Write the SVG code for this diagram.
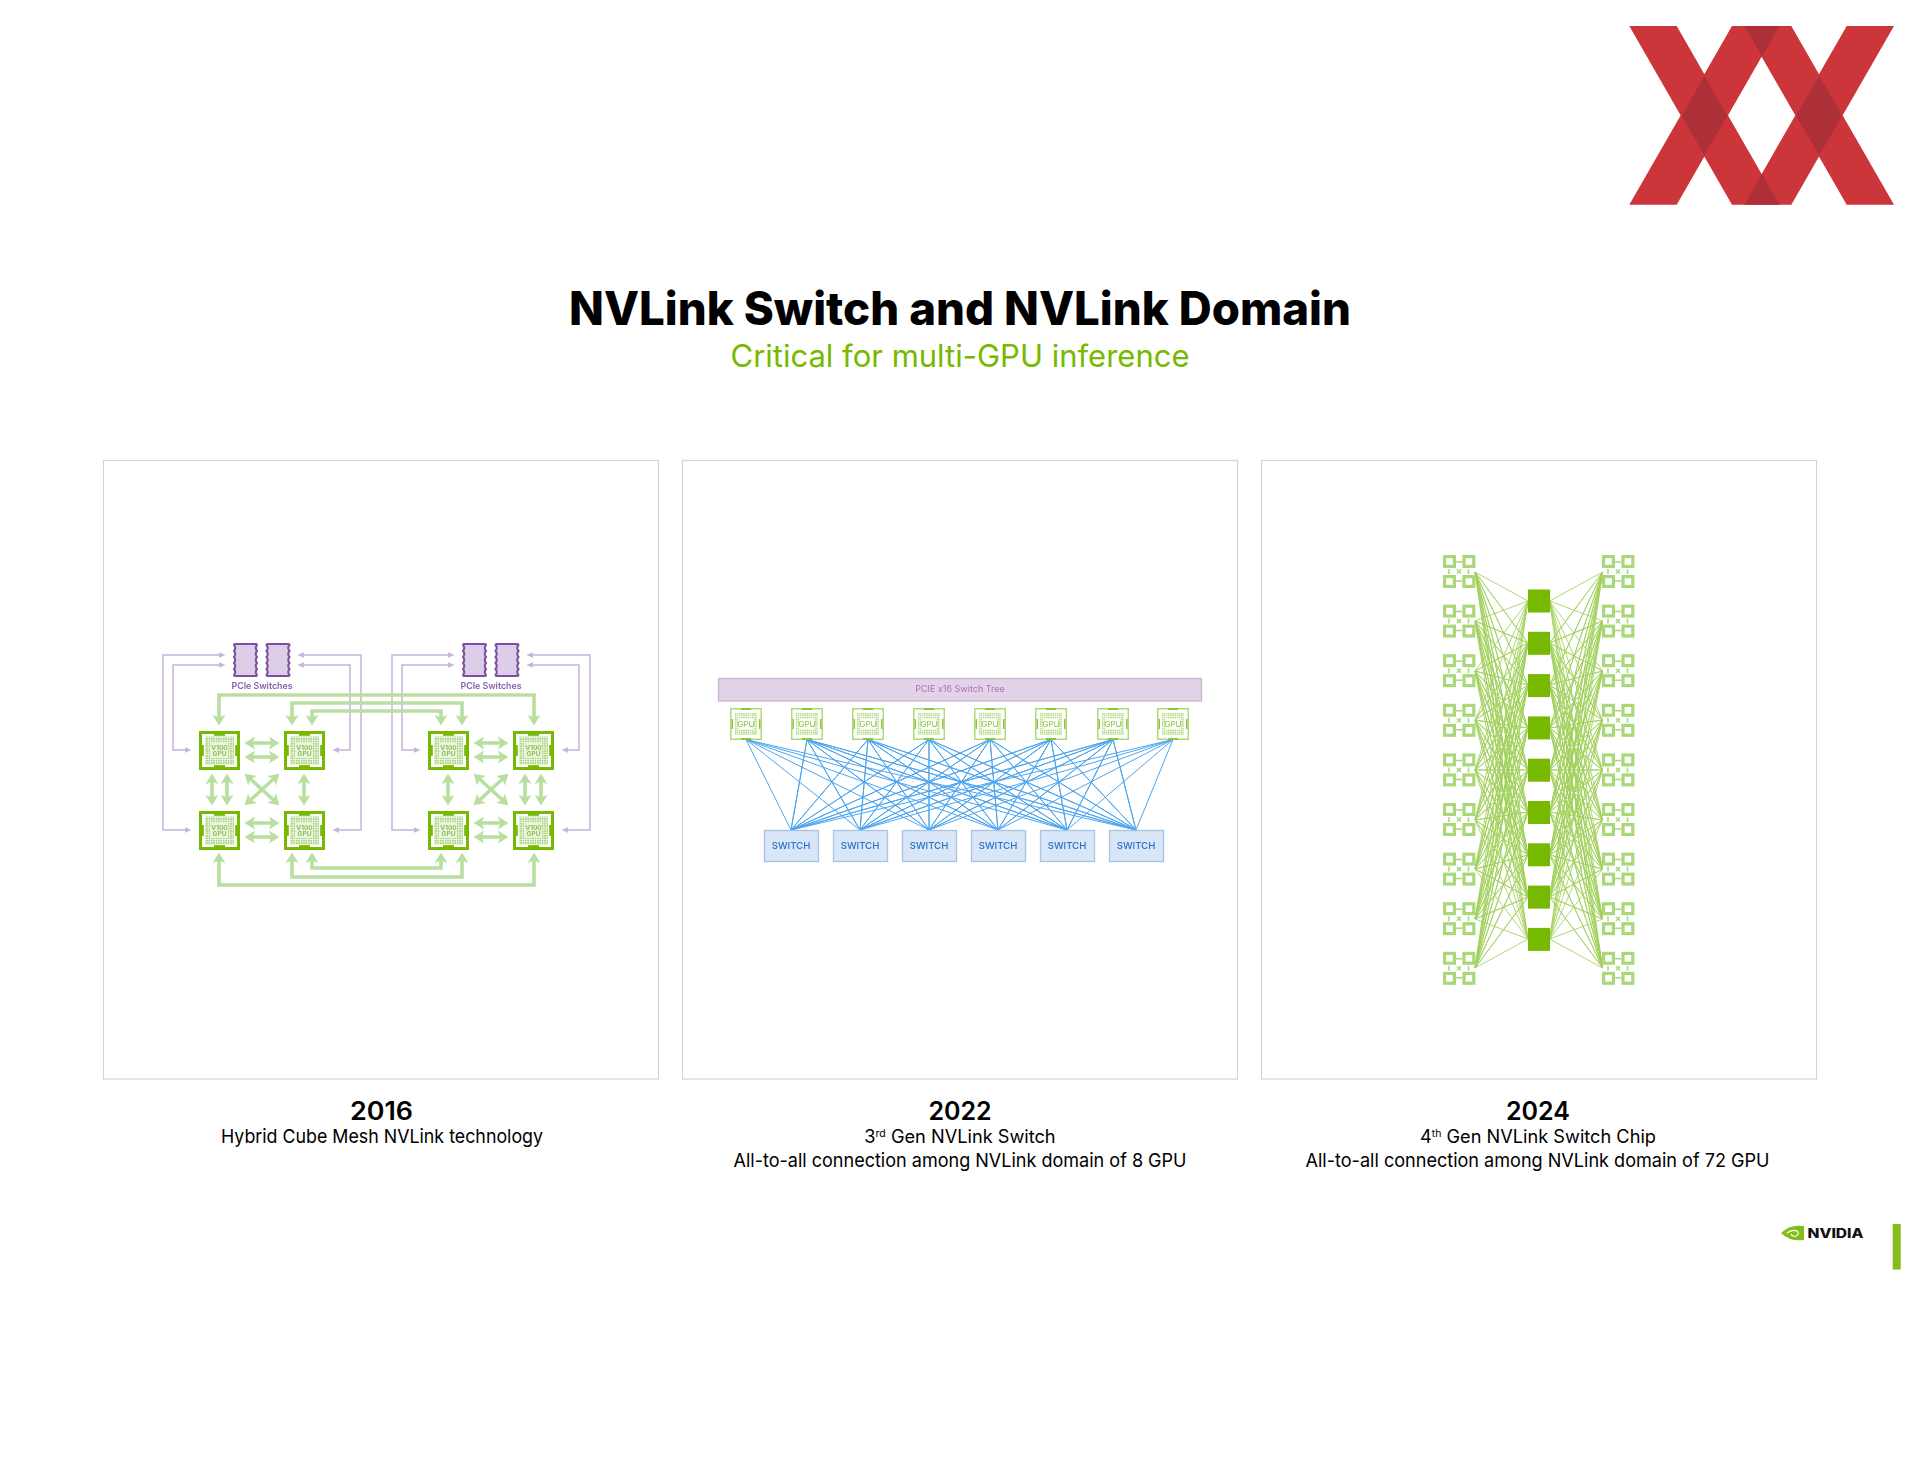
<svg xmlns="http://www.w3.org/2000/svg" width="1920" height="1483" viewBox="0 0 1920 1483">
<style>
text{font-family:Inter,"Liberation Sans",sans-serif;text-anchor:middle}
.title{font-size:46px;font-weight:800;fill:#000}
.sub{font-size:31px;fill:#76b900}
.year{font-size:25px;font-weight:600;fill:#000}
.cap{font-size:19px;fill:#000}
.cap2{font-size:18.200px;fill:#000}
.panel{fill:#fff;stroke:#d4d4d4;stroke-width:1.2}
.logo{fill:#cc3539}
.logod{fill:#ad2f37}
.g1{fill:none;stroke:#b9dfa0;stroke-width:3.600;marker-start:url(#ga);marker-end:url(#ga)}
.p1{fill:none;stroke:#c6b3dc;stroke-width:1.500;marker-start:url(#pa);marker-end:url(#pa)}
.v100{font-size:6.500px;font-weight:700;fill:#8fbf55}
.gpu2{font-size:8px;fill:#8cc63f}
.pl{font-size:8.800px;font-weight:600;fill:#8460a8}
.sw{fill:#d8e6f8;stroke:#a9c3e6;stroke-width:1.300}
.swt{font-size:9.600px;font-weight:500;fill:#2a70c8}
.bl{fill:none;stroke:#4fa6ee;stroke-width:1;stroke-linejoin:round}
.gl{fill:none;stroke:#a2d05c;stroke-width:.85;stroke-linejoin:round}
.sq{fill:#76b900}
</style>
<defs>
<filter id="soft" filterUnits="userSpaceOnUse" x="0" y="0" width="1920" height="1483"><feGaussianBlur stdDeviation=".4"/></filter>
<marker id="ga" markerUnits="userSpaceOnUse" markerWidth="14" markerHeight="14" viewBox="0 0 12 12" refX="9" refY="6" orient="auto-start-reverse"><path d="M3 .5L12 6L3 11.500L5 6Z" fill="#b9dfa0"/></marker>
<marker id="pa" markerUnits="userSpaceOnUse" markerWidth="7" markerHeight="7" viewBox="0 0 6 6" refX="3" refY="3" orient="auto-start-reverse"><path d="M0 .5L6 3L0 5.500L1 3Z" fill="#c6b3dc"/></marker>
<pattern id="dots" width="2.400" height="2.400" patternUnits="userSpaceOnUse"><rect width="1.800" height="1.800" fill="#a9d47e"/></pattern>
<pattern id="dots2" width="2.200" height="2.200" patternUnits="userSpaceOnUse"><rect width="1.600" height="1.600" fill="#b5dc88"/></pattern>
<g id="chip1">
<rect x="1.500" y="1.500" width="38" height="36" fill="#fff" stroke="#76b900" stroke-width="3"/>
<rect x="6" y="5.500" width="29" height="28" fill="url(#dots)"/>
<rect x="12" y="12" width="17" height="15" fill="#e9f5dc"/>
<rect x="15" y="3" width="11" height="1.800" fill="#76b900"/><rect x="15" y="34.200" width="11" height="1.800" fill="#76b900"/>
<rect x="3" y="14" width="1.800" height="11" fill="#76b900"/><rect x="36.200" y="14" width="1.800" height="11" fill="#76b900"/>
</g>
<g id="chip2">
<rect x=".75" y=".75" width="30.500" height="30.500" fill="#fff" stroke="#aedb78" stroke-width="1.500"/>
<rect x="5" y="5" width="22" height="22" fill="url(#dots2)"/>
<rect x="8.500" y="11" width="15" height="10" fill="#fff"/>
<rect x="11" y="0" width="10" height="2" fill="#8cc63f"/><rect x="11" y="30" width="10" height="2" fill="#8cc63f"/>
<rect x="1.500" y="11" width="1.500" height="10" fill="#8cc63f"/><rect x="29" y="11" width="1.500" height="10" fill="#8cc63f"/>
</g>
<path id="pchip" d="M2 1H23Q24 1 24 2Q21.500 5 24 8Q21.500 11 24 14Q21.500 17 24 20Q21.500 23 24 26Q21.500 29 24 32Q24 33 23 33H2Q1 33 1 32Q3.500 29 1 26Q3.500 23 1 20Q3.500 17 1 14Q3.500 11 1 8Q3.500 5 1 2Q1 1 2 1Z" fill="#dccde8" stroke="#7d4f9f" stroke-width="2"/>
<g id="quad" fill="none" stroke="#a9d878" stroke-width="3.200">
<rect x="1.600" y="1.600" width="9.800" height="9.800"/><rect x="21" y="1.600" width="9.800" height="9.800"/>
<rect x="1.600" y="21.600" width="9.800" height="9.800"/><rect x="21" y="21.600" width="9.800" height="9.800"/>
<path stroke-width="1.500" d="M13 7H19M13 26H19M6 14V19M25.500 14V19M14 14.500L18 18.500M18 14.500L14 18.500"/>
</g>
</defs>
<rect width="1920" height="1483" fill="#fff"/>
<g id="xx-logo">
<path class="logo" d="M1629.300 26H1676.700L1779.300 204.700H1732ZM1732 26H1779.300L1676.700 204.700H1629.300ZM1744 26H1791.300L1894 204.700H1846.700ZM1846.700 26H1894L1791.300 204.700H1744Z"/>
<path class="logod" d="M1704.300 76L1727.300 115.700L1704.300 155L1681.700 115.700ZM1819.300 76L1842.300 115.700L1819.300 155L1796 115.700ZM1744.700 26H1779.300L1762 56.700ZM1762 174L1779.300 204.700H1744.700Z"/>
</g>
<text class="title" x="960" y="325" textLength="782" lengthAdjust="spacingAndGlyphs">NVLink Switch and NVLink Domain</text>
<text class="sub" x="960" y="367" textLength="459" lengthAdjust="spacingAndGlyphs">Critical for multi-GPU inference</text>
<rect class="panel" x="103.500" y="460.500" width="555" height="618.500"/>
<rect class="panel" x="682.500" y="460.500" width="555" height="618.500"/>
<rect class="panel" x="1261.500" y="460.500" width="555" height="618.500"/>
<g id="panel-art" filter="url(#soft)">
<g id="connectors">
<g id="pcie-links">
<path class="p1" d="M222 655H163V830H188"/><path class="p1" d="M222 665H173V750H188"/>
<path class="p1" d="M301 655H361V830H336"/><path class="p1" d="M301 665H350V750H336"/>
<path class="p1" d="M451 655H392V830H417"/><path class="p1" d="M451 665H402V750H417"/>
<path class="p1" d="M530 655H590V830H565"/><path class="p1" d="M530 665H579V750H565"/>
</g>
<g id="nvlink-links">
<path class="g1" d="M219 722V695H534V722"/><path class="g1" d="M292 722V703H462V722"/><path class="g1" d="M312 722V711H441V722"/>
<path class="g1" d="M219 856V885H534V856"/><path class="g1" d="M292 856V877H462V856"/><path class="g1" d="M312 856V868H441V856"/>
<path class="g1" d="M248 743H276"/><path class="g1" d="M248 757H276"/><path class="g1" d="M248 823H276"/><path class="g1" d="M248 837H276"/>
<path class="g1" d="M477 743H505"/><path class="g1" d="M477 757H505"/><path class="g1" d="M477 823H505"/><path class="g1" d="M477 837H505"/>
<path class="g1" d="M212 777V802"/><path class="g1" d="M227 777V802"/><path class="g1" d="M304 777V802"/>
<path class="g1" d="M448 777V802"/><path class="g1" d="M525 777V802"/><path class="g1" d="M541 777V802"/>
<path class="g1" d="M247.200 776L276.800 803"/><path class="g1" d="M276.800 776L247.200 803"/>
<path class="g1" d="M476.200 776L505.800 803"/><path class="g1" d="M505.800 776L476.200 803"/>
</g>
<g id="switch-links">
<path class="bl" d="M746 739.500L791 830L807 739.500L791 830L868 739.500L791 830L929 739.500L791 830L990 739.500L791 830L1051 739.500L791 830L1113 739.500L791 830L1173 739.500"/>
<path class="bl" d="M746 739.500L860 830L807 739.500L860 830L868 739.500L860 830L929 739.500L860 830L990 739.500L860 830L1051 739.500L860 830L1113 739.500L860 830L1173 739.500"/>
<path class="bl" d="M746 739.500L929 830L807 739.500L929 830L868 739.500L929 830L929 739.500L929 830L990 739.500L929 830L1051 739.500L929 830L1113 739.500L929 830L1173 739.500"/>
<path class="bl" d="M746 739.500L998 830L807 739.500L998 830L868 739.500L998 830L929 739.500L998 830L990 739.500L998 830L1051 739.500L998 830L1113 739.500L998 830L1173 739.500"/>
<path class="bl" d="M746 739.500L1067 830L807 739.500L1067 830L868 739.500L1067 830L929 739.500L1067 830L990 739.500L1067 830L1051 739.500L1067 830L1113 739.500L1067 830L1173 739.500"/>
<path class="bl" d="M746 739.500L1136 830L807 739.500L1136 830L868 739.500L1136 830L929 739.500L1136 830L990 739.500L1136 830L1051 739.500L1136 830L1113 739.500L1136 830L1173 739.500"/>
</g>
<g id="domain-links-left">
<path class="gl" d="M1528 601L1475 572L1528 643L1475 572L1528 685L1475 572L1528 728L1475 572L1528 770L1475 572L1528 812L1475 572L1528 855L1475 572L1528 897L1475 572L1528 939"/>
<path class="gl" d="M1528 601L1475 621L1528 643L1475 621L1528 685L1475 621L1528 728L1475 621L1528 770L1475 621L1528 812L1475 621L1528 855L1475 621L1528 897L1475 621L1528 939"/>
<path class="gl" d="M1528 601L1475 671L1528 643L1475 671L1528 685L1475 671L1528 728L1475 671L1528 770L1475 671L1528 812L1475 671L1528 855L1475 671L1528 897L1475 671L1528 939"/>
<path class="gl" d="M1528 601L1475 720L1528 643L1475 720L1528 685L1475 720L1528 728L1475 720L1528 770L1475 720L1528 812L1475 720L1528 855L1475 720L1528 897L1475 720L1528 939"/>
<path class="gl" d="M1528 601L1475 770L1528 643L1475 770L1528 685L1475 770L1528 728L1475 770L1528 770L1475 770L1528 812L1475 770L1528 855L1475 770L1528 897L1475 770L1528 939"/>
<path class="gl" d="M1528 601L1475 820L1528 643L1475 820L1528 685L1475 820L1528 728L1475 820L1528 770L1475 820L1528 812L1475 820L1528 855L1475 820L1528 897L1475 820L1528 939"/>
<path class="gl" d="M1528 601L1475 869L1528 643L1475 869L1528 685L1475 869L1528 728L1475 869L1528 770L1475 869L1528 812L1475 869L1528 855L1475 869L1528 897L1475 869L1528 939"/>
<path class="gl" d="M1528 601L1475 919L1528 643L1475 919L1528 685L1475 919L1528 728L1475 919L1528 770L1475 919L1528 812L1475 919L1528 855L1475 919L1528 897L1475 919L1528 939"/>
<path class="gl" d="M1528 601L1475 968L1528 643L1475 968L1528 685L1475 968L1528 728L1475 968L1528 770L1475 968L1528 812L1475 968L1528 855L1475 968L1528 897L1475 968L1528 939"/>
</g>
<use id="domain-links-right" href="#domain-links-left" transform="translate(3077.600 0) scale(-1 1)"/>
</g>
<g id="pcie-a"><use href="#pchip" x="233" y="643"/><use href="#pchip" x="265.500" y="643"/><text class="pl" x="262" y="689">PCIe Switches</text></g>
<g id="pcie-b"><use href="#pchip" x="462" y="643"/><use href="#pchip" x="494.500" y="643"/><text class="pl" x="491" y="689">PCIe Switches</text></g>
<g id="v100-1" transform="translate(199 731)"><use href="#chip1"/><text class="v100" x="20.500" y="18.500">V100</text><text class="v100" x="20.500" y="25">GPU</text></g>
<g id="v100-2" transform="translate(284 731)"><use href="#chip1"/><text class="v100" x="20.500" y="18.500">V100</text><text class="v100" x="20.500" y="25">GPU</text></g>
<g id="v100-3" transform="translate(199 811)"><use href="#chip1"/><text class="v100" x="20.500" y="18.500">V100</text><text class="v100" x="20.500" y="25">GPU</text></g>
<g id="v100-4" transform="translate(284 811)"><use href="#chip1"/><text class="v100" x="20.500" y="18.500">V100</text><text class="v100" x="20.500" y="25">GPU</text></g>
<g id="v100-5" transform="translate(428 731)"><use href="#chip1"/><text class="v100" x="20.500" y="18.500">V100</text><text class="v100" x="20.500" y="25">GPU</text></g>
<g id="v100-6" transform="translate(513 731)"><use href="#chip1"/><text class="v100" x="20.500" y="18.500">V100</text><text class="v100" x="20.500" y="25">GPU</text></g>
<g id="v100-7" transform="translate(428 811)"><use href="#chip1"/><text class="v100" x="20.500" y="18.500">V100</text><text class="v100" x="20.500" y="25">GPU</text></g>
<g id="v100-8" transform="translate(513 811)"><use href="#chip1"/><text class="v100" x="20.500" y="18.500">V100</text><text class="v100" x="20.500" y="25">GPU</text></g>
<g id="pcie-tree"><rect x="718.500" y="678.500" width="483" height="22.500" fill="#e3d3e8" stroke="#c9b3d0" stroke-width="1.300"/><text x="960" y="692" font-size="9" fill="#b56fae">PCIE x16 Switch Tree</text></g>
<g id="gpu-1" transform="translate(730 708)"><use href="#chip2"/><text class="gpu2" x="16" y="19">GPU</text></g>
<g id="gpu-2" transform="translate(791 708)"><use href="#chip2"/><text class="gpu2" x="16" y="19">GPU</text></g>
<g id="gpu-3" transform="translate(852 708)"><use href="#chip2"/><text class="gpu2" x="16" y="19">GPU</text></g>
<g id="gpu-4" transform="translate(913 708)"><use href="#chip2"/><text class="gpu2" x="16" y="19">GPU</text></g>
<g id="gpu-5" transform="translate(974 708)"><use href="#chip2"/><text class="gpu2" x="16" y="19">GPU</text></g>
<g id="gpu-6" transform="translate(1035 708)"><use href="#chip2"/><text class="gpu2" x="16" y="19">GPU</text></g>
<g id="gpu-7" transform="translate(1097 708)"><use href="#chip2"/><text class="gpu2" x="16" y="19">GPU</text></g>
<g id="gpu-8" transform="translate(1157 708)"><use href="#chip2"/><text class="gpu2" x="16" y="19">GPU</text></g>
<g id="switch-1"><rect class="sw" x="764.500" y="830.500" width="54" height="31"/><text class="swt" x="791" y="849">SWITCH</text></g>
<g id="switch-2"><rect class="sw" x="833.500" y="830.500" width="54" height="31"/><text class="swt" x="860" y="849">SWITCH</text></g>
<g id="switch-3"><rect class="sw" x="902.500" y="830.500" width="54" height="31"/><text class="swt" x="929" y="849">SWITCH</text></g>
<g id="switch-4"><rect class="sw" x="971.500" y="830.500" width="54" height="31"/><text class="swt" x="998" y="849">SWITCH</text></g>
<g id="switch-5"><rect class="sw" x="1040.500" y="830.500" width="54" height="31"/><text class="swt" x="1067" y="849">SWITCH</text></g>
<g id="switch-6"><rect class="sw" x="1109.500" y="830.500" width="54" height="31"/><text class="swt" x="1136" y="849">SWITCH</text></g>
<g id="quads-left">
<use href="#quad" x="1443" y="555"/><use href="#quad" x="1443" y="604.600"/><use href="#quad" x="1443" y="654.200"/><use href="#quad" x="1443" y="703.800"/><use href="#quad" x="1443" y="753.400"/><use href="#quad" x="1443" y="803"/><use href="#quad" x="1443" y="852.600"/><use href="#quad" x="1443" y="902.200"/><use href="#quad" x="1443" y="951.800"/>
</g>
<g id="quads-right">
<use href="#quad" x="1602" y="555"/><use href="#quad" x="1602" y="604.600"/><use href="#quad" x="1602" y="654.200"/><use href="#quad" x="1602" y="703.800"/><use href="#quad" x="1602" y="753.400"/><use href="#quad" x="1602" y="803"/><use href="#quad" x="1602" y="852.600"/><use href="#quad" x="1602" y="902.200"/><use href="#quad" x="1602" y="951.800"/>
</g>
<g id="nvswitch-chips">
<rect class="sq" x="1528" y="589.500" width="22" height="23"/><rect class="sq" x="1528" y="631.800" width="22" height="23"/><rect class="sq" x="1528" y="674.100" width="22" height="23"/><rect class="sq" x="1528" y="716.400" width="22" height="23"/><rect class="sq" x="1528" y="758.700" width="22" height="23"/><rect class="sq" x="1528" y="801" width="22" height="23"/><rect class="sq" x="1528" y="843.300" width="22" height="23"/><rect class="sq" x="1528" y="885.600" width="22" height="23"/><rect class="sq" x="1528" y="927.900" width="22" height="23"/>
</g>
</g>
<g id="captions">
<text class="year" x="381.500" y="1120" textLength="63" lengthAdjust="spacingAndGlyphs">2016</text>
<text class="cap" x="382" y="1143" textLength="322" lengthAdjust="spacingAndGlyphs">Hybrid Cube Mesh NVLink technology</text>
<text class="year" x="960" y="1120">2022</text>
<text class="cap2" x="960" y="1143">3<tspan font-size="10.500" dy="-6">rd</tspan><tspan dy="6"> Gen NVLink Switch</tspan></text>
<text class="cap" x="960" y="1167" textLength="453" lengthAdjust="spacingAndGlyphs">All-to-all connection among NVLink domain of 8 GPU</text>
<text class="year" x="1538" y="1120">2024</text>
<text class="cap2" x="1538" y="1143">4<tspan font-size="10.500" dy="-6">th</tspan><tspan dy="6"> Gen NVLink Switch Chip</tspan></text>
<text class="cap" x="1537.500" y="1167" textLength="464" lengthAdjust="spacingAndGlyphs">All-to-all connection among NVLink domain of 72 GPU</text>
</g>
<g id="nvidia-logo">
<path d="M1781 1233Q1790 1224 1804 1226V1240Q1790 1242 1781 1233Z" fill="#84bd1a"/>
<path d="M1787 1233Q1792 1229 1797 1231Q1800 1234 1796 1236Q1792 1237 1791 1234" fill="none" stroke="#fff" stroke-width="1.200"/>
<text x="1835.500" y="1237.500" font-size="12.500" font-weight="800" fill="#111" textLength="56" lengthAdjust="spacingAndGlyphs">NVIDIA</text>
</g>
<rect id="accent-bar" x="1892.700" y="1224" width="8" height="45.500" fill="#84bd1a"/>
</svg>
